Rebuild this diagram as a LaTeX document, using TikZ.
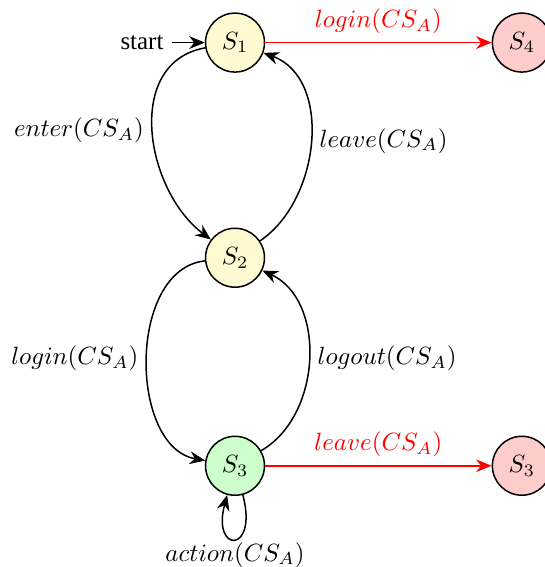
\documentclass[tikz,border=0pt]{standalone}
\usepackage{fontspec}
\setmainfont{Liberation Serif}
\usetikzlibrary{arrows.meta}

\definecolor{idlefill}{RGB}{255,250,210}
\definecolor{okfill}{RGB}{204,255,204}
\definecolor{errfill}{RGB}{255,204,204}

\tikzstyle{stnode} = [circle, draw, semithick, minimum size=0.83cm, inner sep=0]
\tikzstyle{trans} = [-{Stealth[length=2.2mm, width=1.8mm]}, semithick]
\tikzstyle{badtrans} = [trans, red]

\begin{document}
\begin{tikzpicture}
\useasboundingbox (0,0) rectangle (7.662,-7.986);

% states
\node [stnode, fill=idlefill] (s1) at (3.31,-0.6) {$S_1$};
\node [stnode, fill=idlefill] (s2) at (3.31,-3.63) {$S_2$};
\node [stnode, fill=okfill]   (s3) at (3.31,-6.56) {$S_3$};
\node [stnode, fill=errfill]  (e1) at (7.35,-0.6) {$S_4$};
\node [stnode, fill=errfill]  (e2) at (7.35,-6.56) {$S_3$};

% initial arrow
\node (start) at (2.0,-0.6) {start};
\draw[trans] (start) -- (s1);


% S1 <-> S2
\draw[trans] (s1) edge[out=190, in=143, looseness=1.1] node[midway, left] {$enter(CS_A)$} (s2);
\draw[trans] (s2) edge[out=34, in=-20] node[midway, right] {$leave(CS_A)$} (s1);

% S2 <-> S3
\draw[trans] (s2) edge[out=186, in=170] node[midway, left] {$login(CS_A)$} (s3);
\draw[trans] (s3) edge[out=30, in=-25] node[midway, right] {$logout(CS_A)$} (s2);

% self loop
\draw[trans] (s3) edge[out=-75, in=-105, looseness=10] node[midway, below, inner sep=1pt] {$action(CS_A)$} (s3);


% error transitions
\draw[badtrans] (s1) -- node[midway, above] {$login(CS_A)$} (e1);
\draw[badtrans] (s3) -- node[midway, above] {$leave(CS_A)$} (e2);
\end{tikzpicture}
\end{document}
